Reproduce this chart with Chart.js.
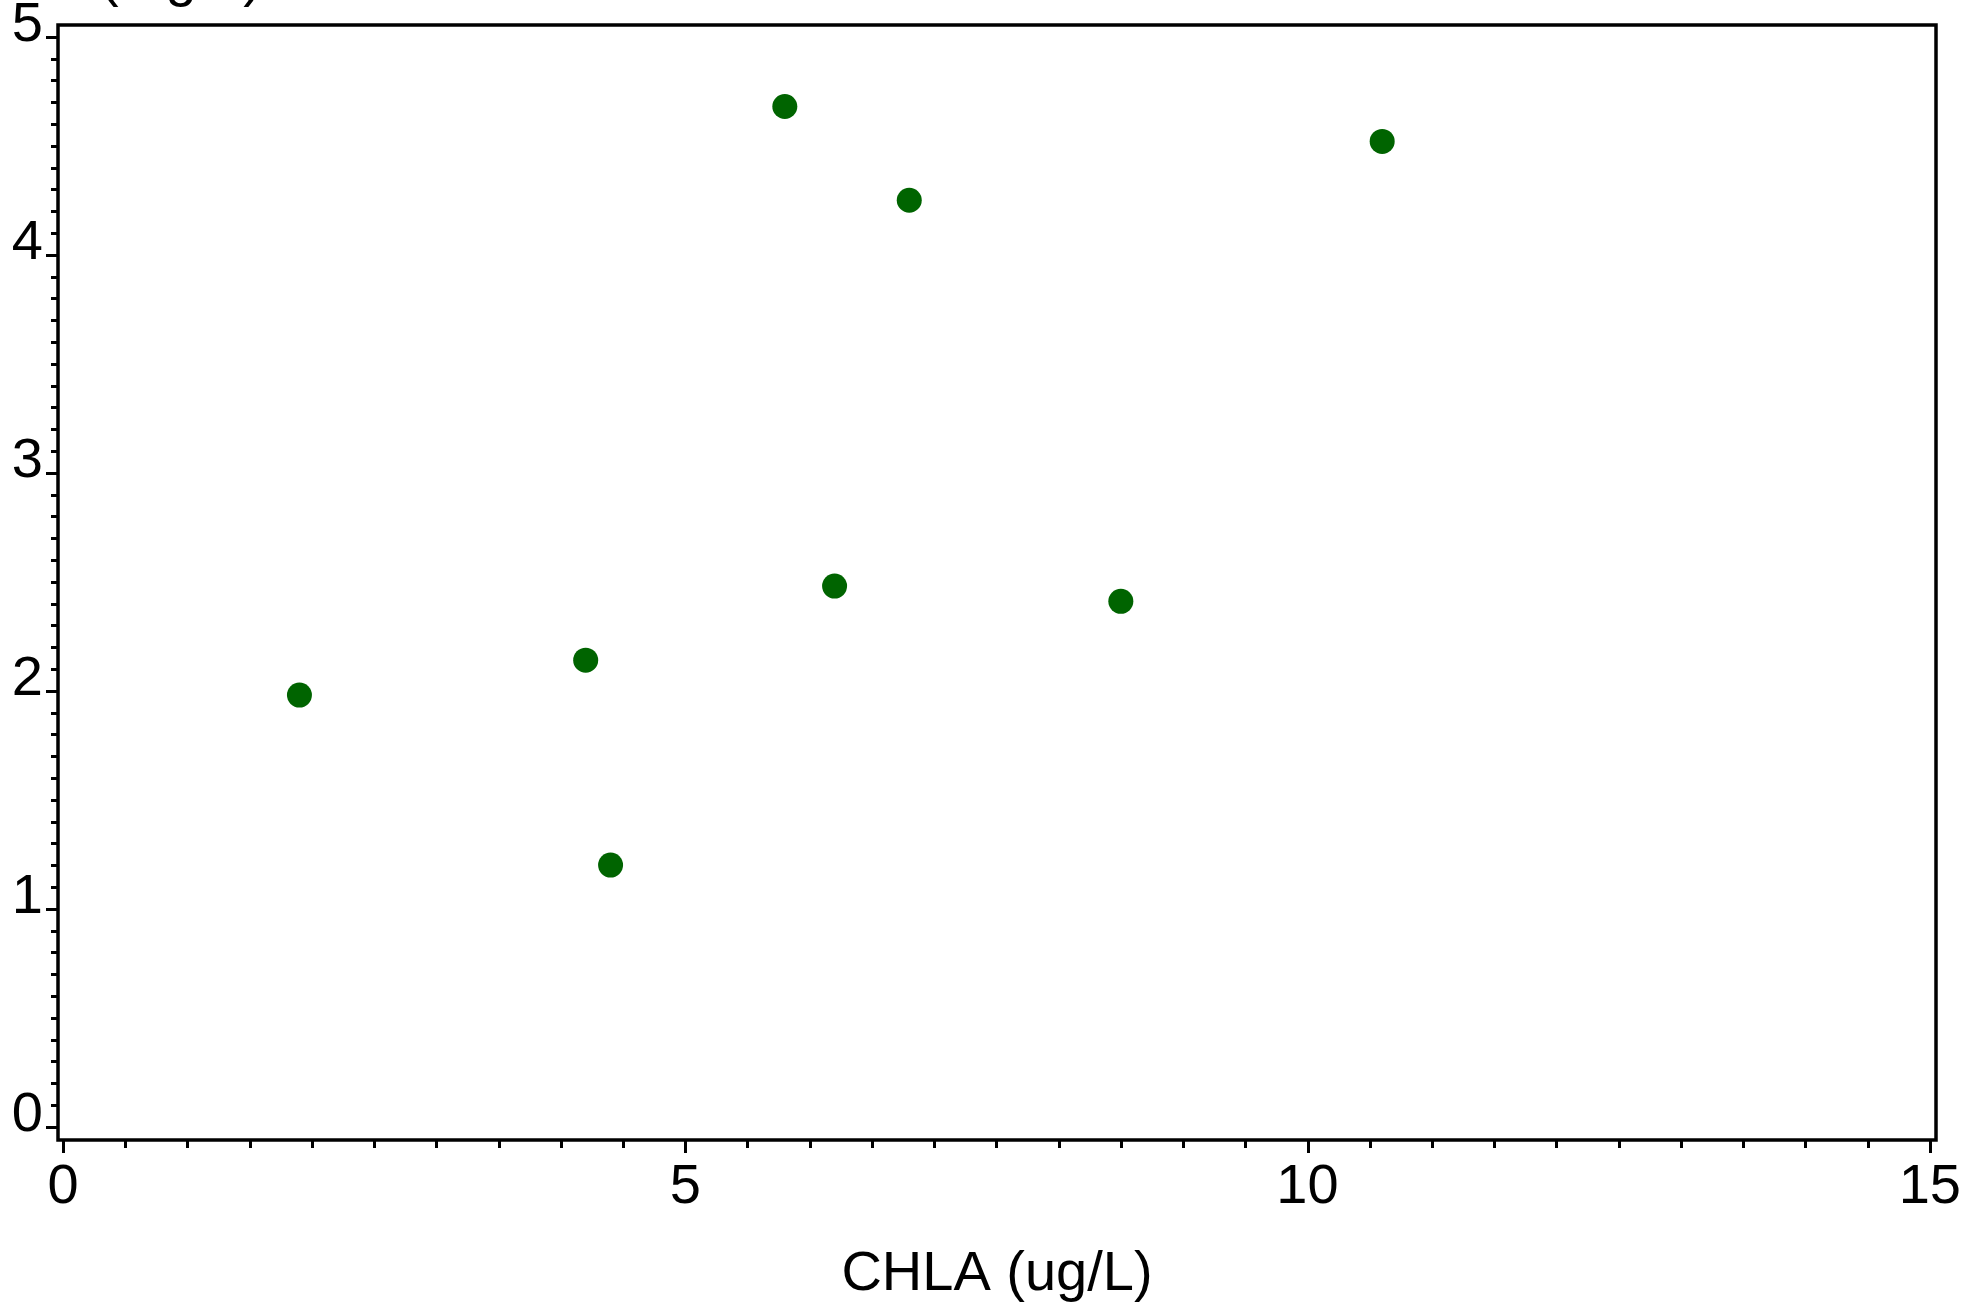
<!DOCTYPE html>
<html>
<head>
<meta charset="utf-8">
<title>TP vs CHLA</title>
<script src="https://cdn.jsdelivr.net/npm/chart.js@4"></script>
<style>
  html, body { margin: 0; padding: 0; background: #fff; }
  #wrap { width: 1986px; height: 1308px; }
</style>
</head>
<body>
<div id="wrap"><canvas id="scatterChart" width="1986" height="1308"></canvas></div>
<script>
// Values
const chlaValues = [1.9, 4.2, 4.4, 5.8, 6.2, 6.8, 8.5, 10.6];
const tpValues = [1.98, 2.14, 1.2, 4.68, 2.48, 4.25, 2.41, 4.52];

// Axis tick labels
const xTickLabels = [0, 5, 10, 15];
const yTickLabels = [0, 1, 2, 3, 4, 5];
const xMinorStep = 0.5;
const yMinorStep = 0.1;

const FONT = "'Liberation Sans', Arial, sans-serif";

// Plugin: box around the plot, major/minor tick marks, clipped title at top
const framePlugin = {
    id: 'frame',
    afterDraw(chart) {
        const ctx = chart.ctx;
        const area = chart.chartArea;
        const xs = chart.scales.x;
        const ys = chart.scales.y;

        ctx.save();
        ctx.strokeStyle = '#000';
        ctx.lineWidth = 3.5;
        ctx.strokeRect(area.left, area.top, area.right - area.left, area.bottom - area.top);

        // x tick marks
        ctx.lineWidth = 3;
        const xFirst = xTickLabels[0], xLast = xTickLabels[xTickLabels.length - 1];
        for (let i = 0; xFirst + i * xMinorStep <= xLast + 1e-9; i++) {
            const v = xFirst + i * xMinorStep;
            const major = xTickLabels.some(t => Math.abs(t - v) < 1e-9);
            const px = Math.round(xs.getPixelForValue(v)) + 0.5;
            ctx.beginPath();
            ctx.moveTo(px, area.bottom);
            ctx.lineTo(px, area.bottom + (major ? 13 : 8));
            ctx.stroke();
        }

        // y tick marks
        const yFirst = yTickLabels[0], yLast = yTickLabels[yTickLabels.length - 1];
        for (let i = 0; yFirst + i * yMinorStep <= yLast + 1e-9; i++) {
            const v = yFirst + i * yMinorStep;
            const major = yTickLabels.some(t => Math.abs(t - v) < 1e-9);
            const py = Math.round(ys.getPixelForValue(v)) + 0.5;
            ctx.beginPath();
            ctx.moveTo(area.left, py);
            ctx.lineTo(area.left - (major ? 12 : 7), py);
            ctx.stroke();
        }

        // y axis title, mostly cut off by the top edge as in the original
        ctx.fillStyle = '#000';
        ctx.font = '56px ' + FONT;
        ctx.textAlign = 'left';
        ctx.textBaseline = 'alphabetic';
        ctx.fillText('TP (mg/L)', 13, -5);
        ctx.restore();
    }
};

// Build the scatter chart
function renderScatter() {
    const ctx = document.getElementById('scatterChart').getContext('2d');
    const points = chlaValues.map((x, i) => ({ x: x, y: tpValues[i] }));

    new Chart(ctx, {
        type: 'scatter',
        data: {
            datasets: [{
                label: 'TP',
                data: points,
                backgroundColor: '#006400',
                borderWidth: 0,
                pointRadius: 12.5,
                pointHoverRadius: 12.5
            }]
        },
        options: {
            responsive: false,
            animation: false,
            devicePixelRatio: 1,
            layout: {
                padding: { top: 25, right: 50, left: 0, bottom: 0 }
            },
            scales: {
                x: {
                    type: 'linear',
                    min: -0.04,
                    max: 15.05,
                    afterBuildTicks: s => { s.ticks = xTickLabels.map(v => ({ value: v })); },
                    afterFit: s => {
                        s.height = 168;
                        s.paddingLeft = 0;
                        s.paddingRight = 0;
                    },
                    grid: { display: false, drawTicks: false },
                    border: { display: false },
                    ticks: {
                        color: '#000',
                        font: { size: 56, family: FONT },
                        padding: 14,
                        maxRotation: 0,
                        autoSkip: false
                    },
                    title: {
                        display: true,
                        text: 'CHLA (ug/L)',
                        color: '#000',
                        font: { size: 56, family: FONT },
                        padding: { top: 0, bottom: 0 }
                    }
                },
                y: {
                    type: 'linear',
                    min: -0.061,
                    max: 5.054,
                    afterBuildTicks: s => { s.ticks = yTickLabels.map(v => ({ value: v })); },
                    afterFit: s => {
                        s.width = 58;
                        s.paddingTop = 0;
                        s.paddingBottom = 0;
                    },
                    grid: { display: false, drawTicks: false },
                    border: { display: false },
                    ticks: {
                        color: '#000',
                        font: { size: 56, family: FONT },
                        padding: 15,
                        labelOffset: -11,
                        autoSkip: false
                    }
                }
            },
            plugins: {
                legend: { display: false },
                tooltip: { enabled: false }
            }
        },
        plugins: [framePlugin]
    });
}

renderScatter();
</script>
</body>
</html>
